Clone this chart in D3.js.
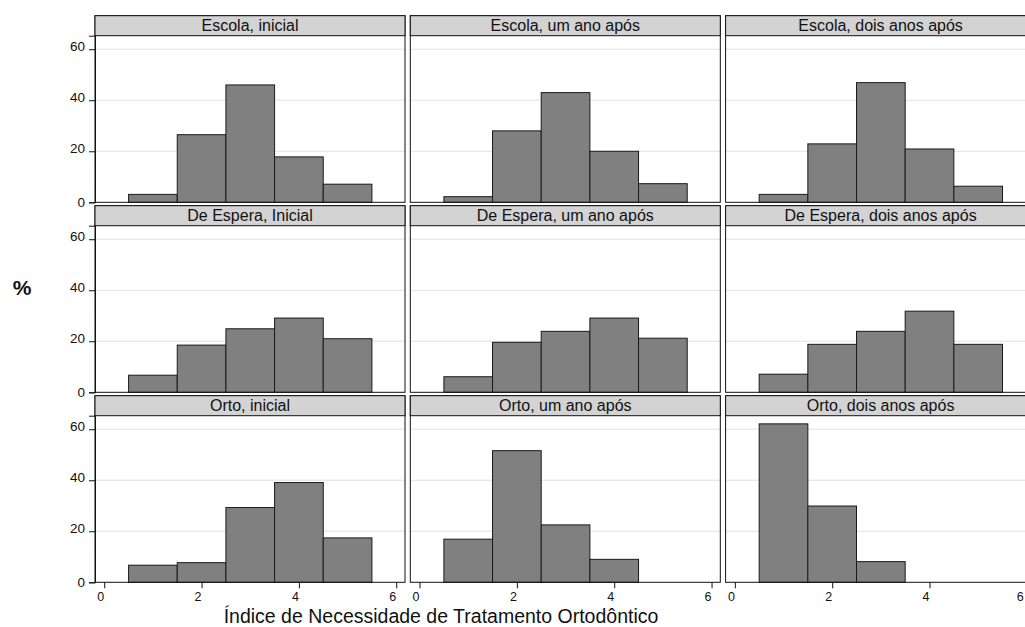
<!DOCTYPE html>
<html>
<head>
<meta charset="utf-8">
<script src="https://cdn.jsdelivr.net/npm/d3@7"></script>
<style>
  html, body { margin: 0; padding: 0; background: #fff; }
  svg { display: block; font-family: "Liberation Sans", Arial, Helvetica, sans-serif; }
</style>
</head>
<body>
<svg id="chart" width="1025" height="627"></svg>
<script>
// ---- data ----
const bins = [1, 2, 3, 4, 5];
const panelTitles = [
  "Escola, inicial", "Escola, um ano após", "Escola, dois anos após",
  "De Espera, Inicial", "De Espera, um ano após", "De Espera, dois anos após",
  "Orto, inicial", "Orto, um ano após", "Orto, dois anos após"
];
const escolaInicial   = [3.1, 26.5, 46.0, 17.8, 7.1];
const escolaUmAno     = [2.2, 28.0, 43.0, 20.0, 7.3];
const escolaDoisAnos  = [3.1, 22.9, 46.9, 20.9, 6.3];
const esperaInicial   = [6.7, 18.5, 24.9, 29.1, 21.0];
const esperaUmAno     = [6.1, 19.6, 23.9, 29.1, 21.2];
const esperaDoisAnos  = [7.1, 18.8, 23.9, 31.8, 18.8];
const ortoInicial     = [6.7, 7.7, 29.3, 39.1, 17.4];
const ortoUmAno       = [16.9, 51.6, 22.5, 9.0, 0];
const ortoDoisAnos    = [62.1, 29.9, 8.1, 0, 0];
const yTicks = [0, 20, 40, 60];
const xTicks = [0, 2, 4, 6];
const yLabel = "%";
const xLabel = "Índice de Necessidade de Tratamento Ortodôntico";

const series = [escolaInicial, escolaUmAno, escolaDoisAnos,
                esperaInicial, esperaUmAno, esperaDoisAnos,
                ortoInicial, ortoUmAno, ortoDoisAnos];

// ---- layout ----
const svg = d3.select("#chart");
const colLeft = [95, 410.3, 725.6];
const rowTop = [15.7, 205.7, 395.7];
const panelW = 310;
const stripH = 20;
const panelH = 186.6;

series.forEach((vals, i) => {
  const r = Math.floor(i / 3), c = i % 3;
  const left = colLeft[c], top = rowTop[r];
  const plotTop = top + stripH, plotBot = top + panelH;
  const x = d3.scaleLinear().domain([-0.19, 6.18]).range([left, left + panelW]);
  const y = d3.scaleLinear().domain([0, 65.3]).range([plotBot, plotTop]);
  const g = svg.append("g");

  g.append("rect").attr("x", left).attr("y", plotTop)
    .attr("width", panelW).attr("height", plotBot - plotTop)
    .attr("fill", "#fff");

  g.selectAll("line.grid").data(yTicks.filter(t => t > 0)).enter()
    .append("line").attr("class", "grid")
    .attr("x1", left).attr("x2", left + panelW)
    .attr("y1", d => y(d)).attr("y2", d => y(d))
    .attr("stroke", "#e2e2e2").attr("stroke-width", 1);

  g.selectAll("rect.bar").data(bins.map((b, k) => ({b, v: vals[k]})).filter(d => d.v > 0))
    .enter().append("rect").attr("class", "bar")
    .attr("x", d => x(d.b - 0.5)).attr("width", d => x(d.b + 0.5) - x(d.b - 0.5))
    .attr("y", d => y(d.v)).attr("height", d => y(0) - y(d.v))
    .attr("fill", "#808080").attr("stroke", "#1a1a1a").attr("stroke-width", 1);

  g.append("rect").attr("x", left).attr("y", top)
    .attr("width", panelW).attr("height", panelH)
    .attr("fill", "none").attr("stroke", "#111").attr("stroke-width", 1);

  g.append("rect").attr("x", left).attr("y", top)
    .attr("width", panelW).attr("height", stripH)
    .attr("fill", "#d3d3d3").attr("stroke", "#111").attr("stroke-width", 1);
  g.append("text").attr("x", left + panelW / 2).attr("y", top + stripH / 2)
    .attr("dy", "0.36em").attr("text-anchor", "middle")
    .attr("font-size", 16).attr("fill", "#111").text(panelTitles[i]);

  if (c === 0) {
    const ay = d3.axisLeft(y).tickValues(yTicks).tickFormat(d3.format("d")).tickSize(6).tickPadding(4);
    const ga = g.append("g").attr("transform", `translate(${left},0)`).call(ay);
    ga.select(".domain").attr("stroke", "#111");
    ga.selectAll(".tick line").attr("stroke", "#111");
    ga.selectAll(".tick text").attr("font-size", 13.5).attr("fill", "#111")
      .attr("font-family", "Liberation Sans, Arial, sans-serif")
      .attr("dy", d => d === 0 ? "0.32em" : "0.1em");
  }
  if (r === 2) {
    const ax = d3.axisBottom(x).tickValues(xTicks).tickFormat(d3.format("d")).tickSize(6).tickPadding(4);
    const ga = g.append("g").attr("transform", `translate(0,${plotBot})`).call(ax);
    ga.select(".domain").remove();
    ga.selectAll(".tick line").attr("stroke", "#111");
    ga.selectAll(".tick text").attr("font-size", 12.5).attr("fill", "#111")
      .attr("font-family", "Liberation Sans, Arial, sans-serif")
      .attr("dx", d => (c === 2 && d === 6) ? -7 : -4);
  }
});

svg.append("text").attr("x", 22).attr("y", 288).attr("dy", "0.35em")
  .attr("text-anchor", "middle").attr("font-size", 21).attr("font-weight", "bold")
  .attr("fill", "#111").text(yLabel);
svg.append("text").attr("x", 441).attr("y", 623)
  .attr("text-anchor", "middle").attr("font-size", 19.5)
  .attr("fill", "#111").text(xLabel);
</script>
</body>
</html>
